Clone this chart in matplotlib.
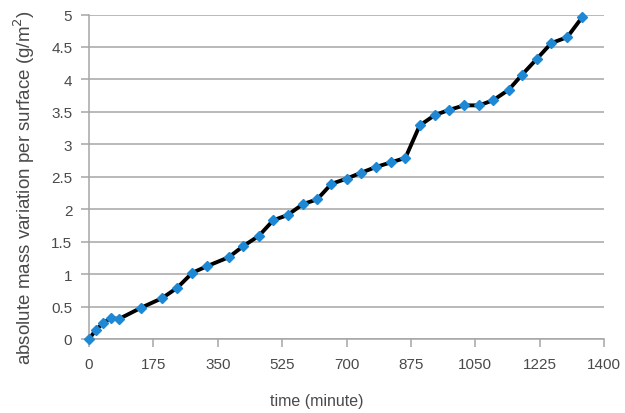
import matplotlib
matplotlib.use('Agg')
import matplotlib.pyplot as plt

# Measured points (time in minutes, absolute mass variation in g/m2)
time_min = [0, 19, 39, 60, 82, 141, 199, 240, 281, 320, 380, 419, 462, 501,
            540, 582, 620, 659, 700, 739, 780, 820, 860, 899, 940, 979, 1020,
            1061, 1099, 1141, 1177, 1218, 1257, 1300, 1341]
mass_var = [0.0, 0.14, 0.25, 0.32, 0.31, 0.48, 0.63, 0.79, 1.02, 1.12, 1.26,
            1.43, 1.59, 1.83, 1.91, 2.08, 2.15, 2.39, 2.47, 2.56, 2.65, 2.72,
            2.79, 3.29, 3.45, 3.53, 3.60, 3.60, 3.68, 3.84, 4.07, 4.32, 4.56,
            4.65, 4.96]

x_ticks = [0, 175, 350, 525, 700, 875, 1050, 1225, 1400]
y_ticks = [0, 0.5, 1, 1.5, 2, 2.5, 3, 3.5, 4, 4.5, 5]
y_labels = ['0', '0.5', '1', '1.5', '2', '2.5', '3', '3.5', '4', '4.5', '5']

plt.rcParams['font.family'] = ['Liberation Sans', 'DejaVu Sans']
text_col = '#4a4a4a'
grid_col = '#a6a6a6'

fig = plt.figure(figsize=(6.25, 4.14), dpi=100)
ax = fig.add_axes([89 / 625, 74 / 414, 515 / 625, 324.5 / 414])

ax.plot(time_min, mass_var, color='black', lw=2.8, marker='D', markersize=5.2,
        markerfacecolor='#1e88d4', markeredgecolor='#1e88d4', zorder=3,
        clip_on=False)

ax.set_xlim(0, 1400)
ax.set_ylim(0, 5)
ax.set_xticks(x_ticks)
ax.set_yticks(y_ticks)
ax.set_yticklabels(y_labels)
ax.yaxis.grid(True, color=grid_col, lw=1.1)
ax.set_axisbelow(True)

for s in ['top', 'right']:
    ax.spines[s].set_visible(False)
for s in ['left', 'bottom']:
    ax.spines[s].set_color(grid_col)
    ax.spines[s].set_linewidth(1.1)

ax.tick_params(axis='both', direction='out', length=6, width=1.1,
               color=grid_col, labelcolor=text_col, labelsize=11)
ax.tick_params(axis='x', pad=7)
ax.tick_params(axis='y', pad=6)

fig.text(317 / 625, 1 - 402 / 414, 'time (minute)', ha='center', va='center',
         fontsize=11.5, color=text_col)
fig.text(24 / 625, 1 - 188 / 414, 'absolute mass variation per surface (g/m$^2$)',
         ha='center', va='center', rotation=90, fontsize=13.5, color=text_col)

fig.savefig('out.png', dpi=100)
